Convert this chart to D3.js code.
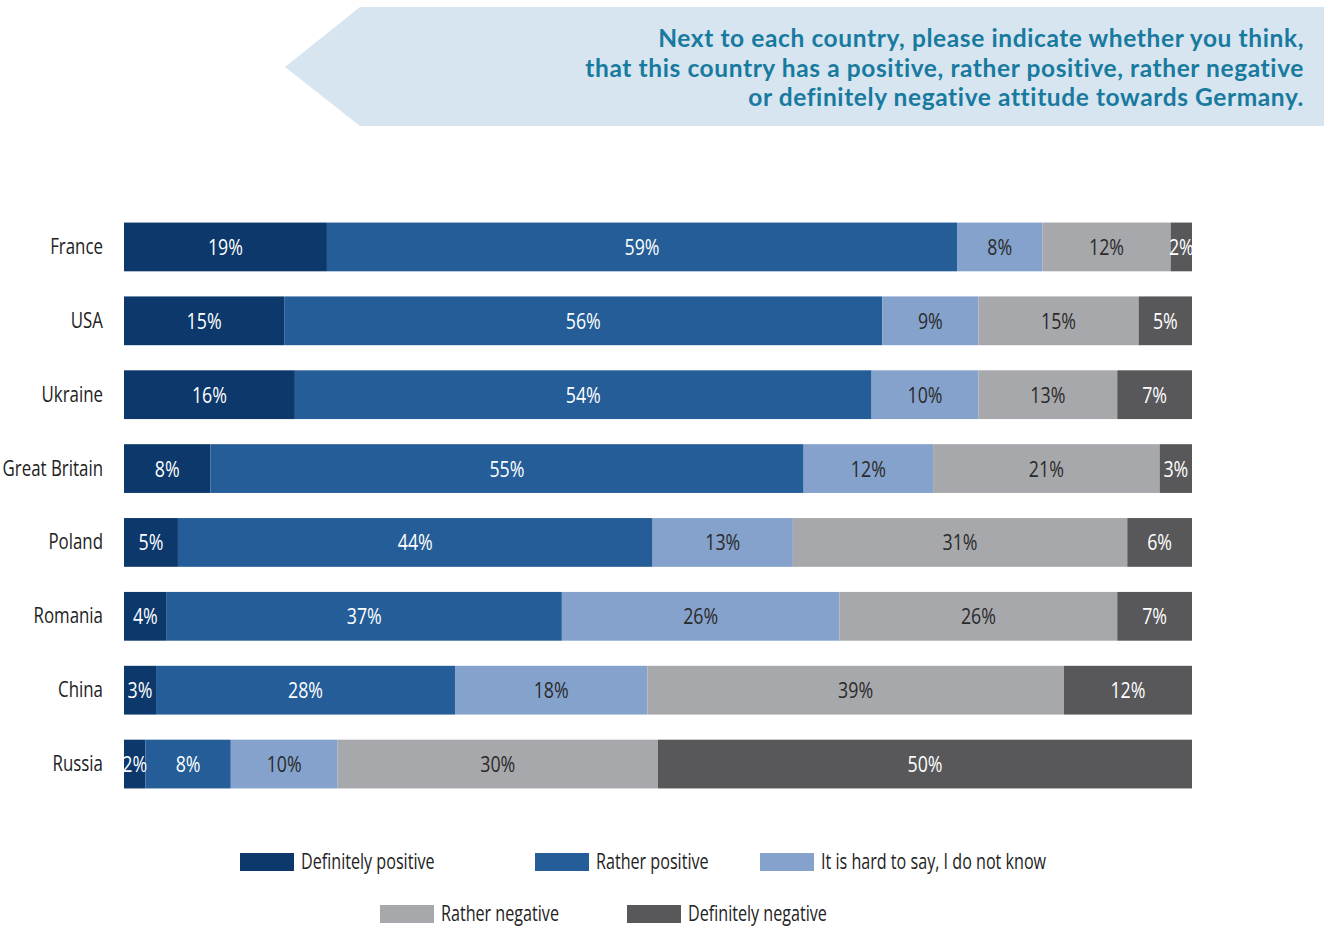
<!DOCTYPE html>
<html><head><meta charset="utf-8">
<script src="https://cdn.jsdelivr.net/npm/d3@7"></script>
<style>body{margin:0;background:#fff;} svg{display:block;}</style>
</head><body>
<script>
const countries = ["France","USA","Ukraine","Great Britain","Poland","Romania","China","Russia"];
const categories = ["Definitely positive","Rather positive","It is hard to say, I do not know","Rather negative","Definitely negative"];
const definitelyPositive = [19,15,16,8,5,4,3,2];
const ratherPositive     = [59,56,54,55,44,37,28,8];
const hardToSay          = [8,9,10,12,13,26,18,10];
const ratherNegative     = [12,15,13,21,31,26,39,30];
const definitelyNegative = [2,5,7,3,6,7,12,50];
const titleLines = ["Next to each country, please indicate whether you think,","that this country has a positive, rather positive, rather negative","or definitely negative attitude towards Germany."];

const colors = ["#0c386b","#245d98","#84a2cb","#a7a8ac","#58585a"];
const textColors = ["#fff","#fff","#2a2a2a","#2a2a2a","#fff"];
const series = [definitelyPositive,ratherPositive,hardToSay,ratherNegative,definitelyNegative];

const W=1324,H=928;
const font = "'Open Sans',sans-serif";
const SX = 0.75;
const svg = d3.select("body").append("svg").attr("width",W).attr("height",H);

// header banner
svg.append("path").attr("d","M360,7 L1324,7 L1324,126 L360,126 L285,67 Z").attr("fill","#d7e5f1");
svg.append("g").selectAll("text").data(titleLines).join("text")
  .attr("x",1304).attr("y",(d,i)=>47+i*29.5).attr("text-anchor","end")
  .attr("font-family","Lato,sans-serif").attr("font-weight",700).attr("font-size",24.5)
  .attr("letter-spacing","0.6").attr("fill","#177a9e").text(d=>d);

const x = d3.scaleLinear().domain([0,1]).range([124,1192]);
const y = d3.scaleBand().domain(countries).range([210,801]).paddingInner(0.34).paddingOuter(0.17);

const rows = countries.map((c,i)=>{
  const vals = series.map(s=>s[i]);
  const tot = d3.sum(vals);
  let acc=0;
  return vals.map((v,k)=>{const s={country:c,k,v,x0:acc/tot,x1:(acc+v)/tot};acc+=v;return s;});
}).flat();

const g = svg.append("g");
g.selectAll("rect").data(rows).join("rect")
  .attr("x",d=>x(d.x0)).attr("width",d=>x(d.x1)-x(d.x0))
  .attr("y",d=>y(d.country)).attr("height",y.bandwidth())
  .attr("fill",d=>colors[d.k]);
g.selectAll("text.v").data(rows).join("text").attr("class","v")
  .attr("transform",d=>`translate(${(x(d.x0)+x(d.x1))/2},${y(d.country)+y.bandwidth()/2+8}) scale(${SX+0.04},1)`)
  .attr("text-anchor","middle").attr("font-family",font).attr("font-size",22.5)
  .attr("fill",d=>textColors[d.k]).text(d=>d.v+"%");

const yAxis = svg.append("g").attr("transform","translate(124,0)")
  .call(d3.axisLeft(y).tickSize(0).tickPadding(21));
yAxis.select(".domain").remove();
yAxis.selectAll(".tick text").attr("x",null).attr("dy",null)
  .attr("transform",`translate(-21,7) scale(${SX},1)`)
  .attr("font-family",font).attr("font-size",22.5).attr("fill","#222");

// legend
const legendPos = [[240,862],[535,862],[760,862],[380,914],[627,914]];
const lg = svg.append("g").selectAll("g").data(categories).join("g")
  .attr("transform",(d,i)=>`translate(${legendPos[i][0]},${legendPos[i][1]})`);
lg.append("rect").attr("x",0).attr("y",-9).attr("width",54).attr("height",18).attr("fill",(d,i)=>colors[i]);
lg.append("text").attr("transform",`translate(61,7) scale(${SX},1)`).attr("font-family",font).attr("font-size",21.5).attr("fill","#222").text(d=>d);
</script>
</body></html>
